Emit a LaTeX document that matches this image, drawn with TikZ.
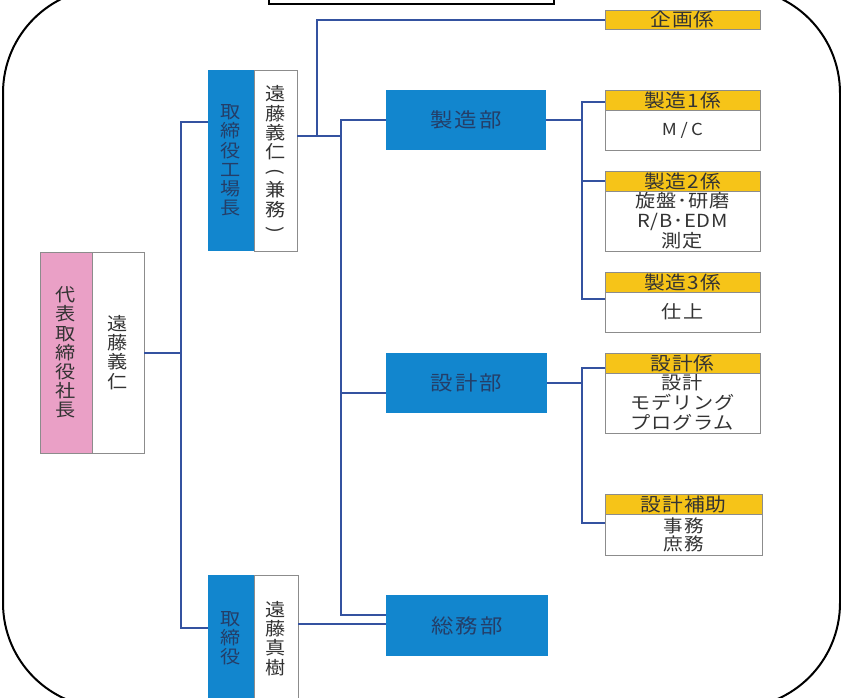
\documentclass[tikz,border=0pt]{standalone}
\usepackage{fontspec}
\newfontfamily\jp{Noto Sans CJK JP}[FakeStretch=1.12]
\definecolor{cblue}{RGB}{18,134,206}
\definecolor{cpink}{RGB}{234,160,198}
\definecolor{cyellow}{RGB}{246,196,24}
\definecolor{cgray}{RGB}{140,140,140}
\definecolor{cline}{RGB}{52,82,160}
\definecolor{ctxtb}{RGB}{36,62,104}
\definecolor{ctxt}{RGB}{51,51,51}
\newcommand\vparL{\rotatebox[origin=c]{-90}{(}}
\newcommand\vparR{\rotatebox[origin=c]{-90}{)}}
\begin{document}
\begin{tikzpicture}[x=1pt,y=-1pt,
  box/.style={anchor=north west,inner sep=0pt,outer sep=0pt,align=center},
  bluebox/.style={box,fill=cblue,text=ctxtb},
  pinkbox/.style={box,fill=cpink,draw=cgray,line width=0.8pt,text=ctxt},
  namebox/.style={box,fill=white,draw=cgray,line width=0.8pt,text=ctxt},
  hdrbox/.style={box,fill=cyellow,draw=cgray,line width=0.8pt,text=ctxt,
    font=\jp\fontsize{18.5}{19}\selectfont\addfontfeature{LetterSpace=6}},
  bodybox/.style={box,fill=white,draw=cgray,line width=0.8pt,text=ctxt,
    font=\jp\fontsize{18}{20}\selectfont\addfontfeature{LetterSpace=4}},
  vfont/.style={font=\jp\fontsize{18}{19.2}\selectfont},
  dfont/.style={font=\jp\fontsize{20}{20}\selectfont\addfontfeature{LetterSpace=10}},
  conn/.style={draw=cline,line width=2pt}]
\useasboundingbox (0,0) rectangle (841,697);
% frame and title box
\draw[black,line width=2pt,rounded corners=105pt] (3,-12) rectangle (840,708);
\draw[black,line width=2pt,fill=white] (269,-10) rectangle (554,4);

% president
\node[pinkbox,vfont,minimum width=52pt,minimum height=201pt] (pres-t) at (40,252) {代\\表\\取\\締\\役\\社\\長};
\node[namebox,vfont,minimum width=52pt,minimum height=201pt] (pres-n) at (92,252) {遠\\藤\\義\\仁};
% factory manager
\node[bluebox,vfont,minimum width=46pt,minimum height=181pt] (kojo-t) at (208,70) {取\\締\\役\\工\\場\\長};
\node[namebox,vfont,minimum width=43pt,minimum height=181pt] (kojo-n) at (254,70) {遠\\藤\\義\\仁\\\vparL\\兼\\務\\\vparR};
% director
\node[bluebox,vfont,minimum width=46pt,minimum height=127pt] (tori-t) at (208,575) {取\\締\\役};
\node[namebox,vfont,minimum width=44pt,minimum height=127pt] (tori-n) at (254,575) {遠\\藤\\真\\樹};

% departments
\node[bluebox,dfont,minimum width=160pt,minimum height=60pt] (seizo) at (386,90) {製造部};
\node[bluebox,dfont,minimum width=161pt,minimum height=60pt] (sekkei) at (386,353) {設計部};
\node[bluebox,dfont,minimum width=162pt,minimum height=61pt] (somu) at (386,595) {総務部};

% sections
\node[hdrbox,minimum width=155pt,minimum height=19pt] (kikaku) at (605,10) {企画係};
\node[hdrbox,minimum width=155pt,minimum height=20pt] (s1h) at (605,90) {製造1係};
\node[bodybox,minimum width=155pt,minimum height=40pt,font=\jp\fontsize{16.5}{20}\selectfont\addfontfeature{LetterSpace=22}] (s1b) at (605,110) {M/C};
\node[hdrbox,minimum width=155pt,minimum height=20pt] (s2h) at (605,171) {製造2係};
\node[bodybox,minimum width=155pt,minimum height=60pt] (s2b) at (605,191) {旋盤･研磨\\R/B･EDM\\測定};
\node[hdrbox,minimum width=155pt,minimum height=20pt] (s3h) at (605,272) {製造3係};
\node[bodybox,minimum width=155pt,minimum height=40pt,font=\jp\fontsize{18}{20}\selectfont\addfontfeature{LetterSpace=12}] (s3b) at (605,292) {仕上};
\node[hdrbox,minimum width=155pt,minimum height=20pt] (k1h) at (605,353) {設計係};
\node[bodybox,minimum width=155pt,minimum height=60pt] (k1b) at (605,373) {設計\\モデリング\\プログラム};
\node[hdrbox,minimum width=157pt,minimum height=20pt] (k2h) at (605,494) {設計補助};
\node[bodybox,minimum width=157pt,minimum height=41pt,font=\jp\fontsize{17.5}{18}\selectfont\addfontfeature{LetterSpace=6}] (k2b) at (605,514) {事務\\庶務};

% junction coordinates
\coordinate (t1a) at (181,122);
\coordinate (t1b) at (181,628);
\coordinate (ka) at (297,136);
\coordinate (kb) at (317,20);
\coordinate (t2a) at (341,120);
\coordinate (t2s) at (341,393);
\coordinate (t2b) at (341,615);
\coordinate (ta) at (298,624);
\coordinate (r1) at (582,102);
\coordinate (r1m) at (582,181);
\coordinate (r1b) at (582,299);
\coordinate (r2) at (582,368);
\coordinate (r2b) at (582,523);

% connectors: president level
\draw[conn] (pres-n.east) -- (pres-n.east -| t1a);
\draw[conn] (kojo-t.west |- t1a) -- (t1a) -- (t1b) -- (tori-t.west |- t1b);
% factory manager level
\draw[conn] (ka) -- (ka -| t2a);
\draw[conn] (ka -| kb) -- (kb) -- (kikaku.west |- kb);
\draw[conn] (seizo.west) -- (t2a) -- (t2b) -- (somu.west |- t2b);
\draw[conn] (t2s) -- (sekkei.west |- t2s);
\draw[conn] (ta) -- (somu.west |- ta);
% manufacturing sections
\draw[conn] (seizo.east) -- (seizo.east -| r1);
\draw[conn] (s1h.west |- r1) -- (r1) -- (r1b) -- (s3b.west |- r1b);
\draw[conn] (r1m) -- (s2h.west |- r1m);
% design sections
\draw[conn] (sekkei.east) -- (sekkei.east -| r2);
\draw[conn] (k1h.west |- r2) -- (r2) -- (r2b) -- (k2b.west |- r2b);
\end{tikzpicture}
\end{document}
